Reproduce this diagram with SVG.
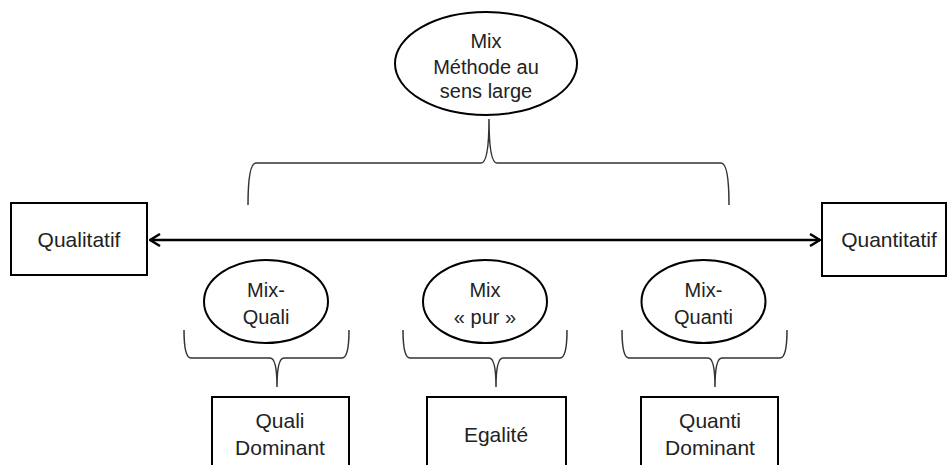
<svg xmlns="http://www.w3.org/2000/svg" width="949" height="465" viewBox="0 0 949 465">
  <style>
    .box { fill: #fff; stroke: #000; stroke-width: 2; }
    .oval { fill: #fff; stroke: #000; stroke-width: 2; }
    .brace { fill: none; stroke: #333; stroke-width: 1.5; }
    .axis { fill: none; stroke: #000; stroke-width: 2.5; }
    text { font-family: "Liberation Sans", Arial, sans-serif; font-size: 20px; fill: #222; text-anchor: middle; }
    .lbl { font-size: 21px; }
  </style>
  <defs>
    <marker id="chev" viewBox="0 0 12 14" refX="11" refY="7" markerWidth="12" markerHeight="14" markerUnits="userSpaceOnUse" orient="auto-start-reverse">
      <polyline points="1,1 11,7 1,13" fill="none" stroke="#000" stroke-width="2.5"/>
    </marker>
  </defs>

  <!-- connectors: axis and braces -->
  <g id="connectors">
    <line class="axis" x1="150" y1="240" x2="820" y2="240" marker-start="url(#chev)" marker-end="url(#chev)"/>
    <!-- top brace, cusp pointing up -->
    <path class="brace" d="M248,205 Q248,163 256,163 L481,163 Q489,163 489,119 Q489,163 497,163 L721,163 Q729,163 729,205"/>
    <!-- lower braces, cusp pointing down -->
    <path class="brace" d="M184,330 Q184,358 191,358 L270,358 Q277,358 277,387 Q277,358 284,358 L342,358 Q349,358 349,330"/>
    <path class="brace" d="M403,330 Q403,358 410,358 L489,358 Q496,358 496,387 Q496,358 503,358 L560,358 Q567,358 567,330"/>
    <path class="brace" d="M622,330 Q622,358 629,358 L708,358 Q715,358 715,387 Q715,358 722,358 L780,358 Q787,358 787,330"/>
  </g>

  <g id="mix-large">
    <ellipse class="oval" cx="486" cy="63.5" rx="91" ry="51.5"/>
    <text x="486" y="48">Mix</text>
    <text x="486" y="74">Méthode au</text>
    <text x="486" y="98">sens large</text>
  </g>

  <g id="qualitatif">
    <rect class="box" x="11" y="203" width="136" height="72"/>
    <text class="lbl" x="79" y="247">Qualitatif</text>
  </g>

  <g id="quantitatif">
    <rect class="box" x="822" y="203" width="124" height="73"/>
    <text class="lbl" x="889" y="247">Quantitatif</text>
  </g>

  <g id="mix-quali">
    <ellipse class="oval" cx="266" cy="301.5" rx="62" ry="41.5"/>
    <text x="266" y="297">Mix-</text>
    <text x="266" y="324">Quali</text>
  </g>

  <g id="mix-pur">
    <ellipse class="oval" cx="485" cy="301.5" rx="62" ry="41.5"/>
    <text x="485" y="297">Mix</text>
    <text x="485" y="324">« pur »</text>
  </g>

  <g id="mix-quanti">
    <ellipse class="oval" cx="703.5" cy="301.5" rx="62" ry="41.5"/>
    <text x="703.5" y="297">Mix-</text>
    <text x="703.5" y="324">Quanti</text>
  </g>

  <g id="quali-dominant">
    <rect class="box" x="212" y="397" width="137" height="80"/>
    <text class="lbl" x="280" y="428">Quali</text>
    <text class="lbl" x="280" y="455">Dominant</text>
  </g>

  <g id="egalite">
    <rect class="box" x="427" y="397" width="139" height="80"/>
    <text class="lbl" x="496" y="442">Egalité</text>
  </g>

  <g id="quanti-dominant">
    <rect class="box" x="641" y="397" width="137" height="80"/>
    <text class="lbl" x="710" y="428">Quanti</text>
    <text class="lbl" x="710" y="455">Dominant</text>
  </g>
</svg>
